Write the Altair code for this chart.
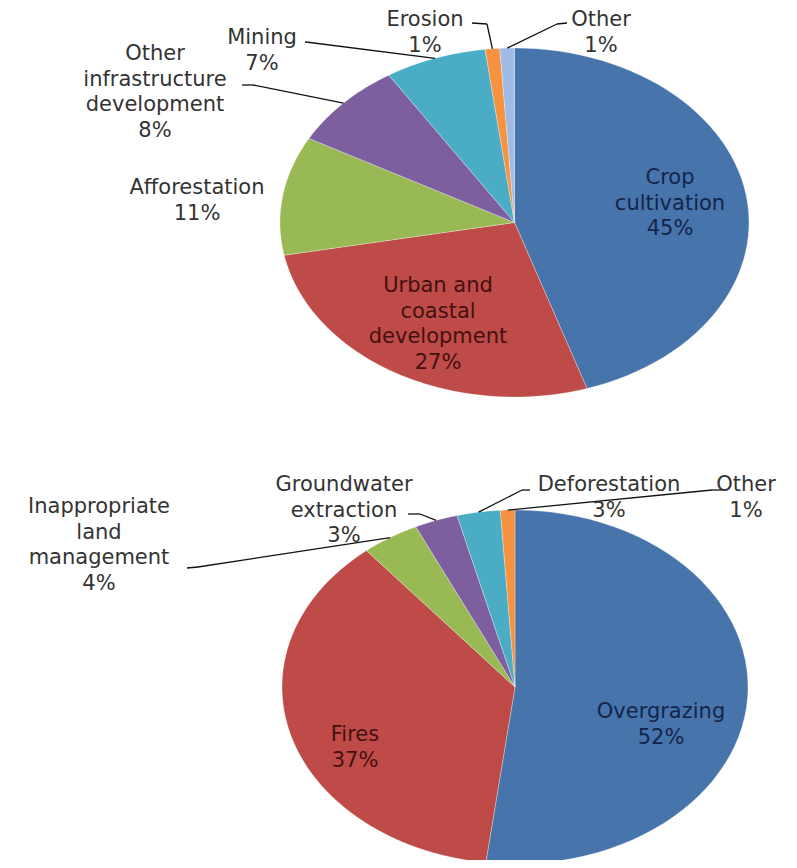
import altair as alt
import pandas as pd

# ---------------- data ----------------
top_categories = ["Crop cultivation", "Urban and coastal development", "Afforestation",
                  "Other infrastructure development", "Mining", "Erosion", "Other"]
top_values = [45, 27, 11, 8, 7, 1, 1]

bottom_categories = ["Overgrazing", "Fires", "Inappropriate land management",
                     "Groundwater extraction", "Deforestation", "Other"]
bottom_values = [52, 37, 4, 3, 3, 1]

# label wording as wrapped in the figure
top_label_text = ["Crop\ncultivation", "Urban and\ncoastal\ndevelopment", "Afforestation",
                  "Other\ninfrastructure\ndevelopment", "Mining", "Erosion", "Other"]
bottom_label_text = ["Overgrazing", "Fires", "Inappropriate\nland\nmanagement",
                     "Groundwater\nextraction", "Deforestation", "Other"]

# ---------------- style ----------------
slice_colors = ["#4874AC", "#BE4B48", "#98B954", "#7D5FA0", "#4AACC5", "#F59340", "#9FBBE6"]
inside_text_colors = {0: "#13254a", 1: "#451010"}
outside_text_color = "#333333"

# ---------------- layout (page pixel coordinates) ----------------
pie_geom = {"top": (514.5, 222.5, 234.5, 174.5), "bottom": (515.0, 687.0, 233.0, 177.0)}
# (x centre, y of first text line)
top_label_pos = [(670, 178), (438, 286), (197, 188), (155, 54), (262, 38), (425, 20), (601, 20)]
bottom_label_pos = [(661, 712), (355, 735), (99, 507), (344, 485), (609, 485), (746, 485)]
top_leader = [None, None, None, ((242, 85), (253, 85)), ((305, 42), (306, 42)),
              ((472, 23), (487, 24)), ((567, 23), (557, 24))]
bottom_leader = [None, None, ((187, 568), (198, 567)), ((408, 514), (420, 514)),
                 ((530, 490), (522, 490)), ((722, 490), (712, 490))]


def build(pie, cats, vals, texts, lpos, leaders):
    rows = []
    total = sum(vals)
    run = 0
    cx, cy, rx, ry = pie_geom[pie]
    for i, (c, v, t, (lx, ly), ld) in enumerate(zip(cats, vals, texts, lpos, leaders)):
        f0 = run / total
        run += v
        f1 = run / total
        row = dict(pie=pie, key=f"{pie}-{i}", idx=i, category=c, value=v, f0=f0, f1=f1,
                   cx=cx, cy=cy, rx=rx, ry=ry, text=f"{t}\n{v}%", lx=lx, ly=ly,
                   tcolor=inside_text_colors.get(i, outside_text_color) if ld is None else outside_text_color)
        if ld is not None:
            (ax, ay), (ex, ey) = ld
            row.update(ax=ax, ay=ay, ex=ex, ey=ey)
        else:
            row.update(ax=None, ay=None, ex=None, ey=None)
        rows.append(row)
    return rows


df = pd.DataFrame(build("top", top_categories, top_values, top_label_text, top_label_pos, top_leader)
                  + build("bottom", bottom_categories, bottom_values, bottom_label_text,
                          bottom_label_pos, bottom_leader))

W, H = 781, 852
xs = alt.Scale(domain=[8, 8 + W], nice=False, zero=False)
ys = alt.Scale(domain=[8, 8 + H], nice=False, zero=False, reverse=True)
N = 60

base = alt.Chart(df)

slices = base.transform_calculate(
    steps=f"sequence(-1, {N + 1})"
).transform_flatten(["steps"]).transform_calculate(
    ang=f"2*PI*(datum.f0 + (datum.f1 - datum.f0) * max(datum.steps, 0) / {N})"
).transform_calculate(
    px="datum.steps < 0 ? datum.cx : datum.cx + datum.rx * sin(datum.ang)",
    py="datum.steps < 0 ? datum.cy : datum.cy - datum.ry * cos(datum.ang)",
).mark_line(filled=True, interpolate="linear-closed", stroke="#ffffff",
            strokeWidth=0.6, strokeOpacity=0.5).encode(
    x=alt.X("px:Q", scale=xs, axis=None),
    y=alt.Y("py:Q", scale=ys, axis=None),
    order=alt.Order("steps:Q"),
    detail="key:N",
    color=alt.Color("idx:O", scale=alt.Scale(domain=list(range(7)), range=slice_colors), legend=None),
)

leader_base = base.transform_filter("isValid(datum.ax)").transform_calculate(
    am="PI * (datum.f0 + datum.f1)",
).transform_calculate(
    tx="datum.cx + datum.rx * sin(datum.am)",
    ty="datum.cy - datum.ry * cos(datum.am)",
)

rule1 = leader_base.mark_rule(color="#111111", strokeWidth=1.3).encode(
    x=alt.X("ax:Q", scale=xs, axis=None), y=alt.Y("ay:Q", scale=ys, axis=None),
    x2="ex:Q", y2="ey:Q",
)
rule2 = leader_base.mark_rule(color="#111111", strokeWidth=1.3).encode(
    x=alt.X("ex:Q", scale=xs, axis=None), y=alt.Y("ey:Q", scale=ys, axis=None),
    x2="tx:Q", y2="ty:Q",
)

labels = base.mark_text(lineBreak="\n", font="DejaVu Sans", fontSize=21, lineHeight=25.5,
                        align="center", baseline="middle").encode(
    x=alt.X("lx:Q", scale=xs, axis=None),
    y=alt.Y("ly:Q", scale=ys, axis=None),
    text="text:N",
    color=alt.Color("tcolor:N", scale=None),
)

chart = alt.layer(slices, rule1, rule2, labels).properties(
    width=W, height=H, padding=0, autosize=alt.AutoSizeParams(type="none"),
    background="white",
).configure_view(stroke=None)

chart.save("out.html", embed_options={"renderer": "svg", "actions": False})
